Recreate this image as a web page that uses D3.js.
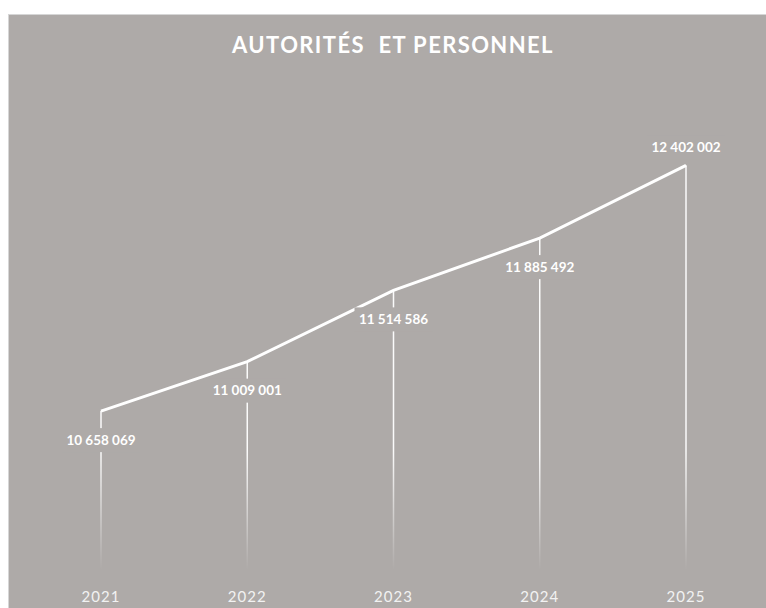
<!DOCTYPE html>
<html>
<head>
<meta charset="utf-8">
<script src="https://cdn.jsdelivr.net/npm/d3@7"></script>
<style>
  body { margin: 0; background: #ffffff; }
  svg { display: block; }
  .title { font-family: Lato, sans-serif; font-weight: 700; font-size: 22px; fill: #ffffff; letter-spacing: 1.4px; }
  .valueText { font-family: Lato, sans-serif; font-weight: 700; font-size: 13.5px; fill: #ffffff; }
  .yearText { font-family: Lato, sans-serif; font-size: 15px; fill: #f2f2f2; letter-spacing: 1px; }
</style>
</head>
<body>
<div id="chart"></div>
<script>
// data
var years = ["2021", "2022", "2023", "2024", "2025"];
var amounts = [10658069, 11009001, 11514586, 11885492, 12402002];
var amountLabels = ["10 658 069", "11 009 001", "11 514 586", "11 885 492", "12 402 002"];

var svgWidth = 766;
var svgHeight = 608;
var bg = "#aeaaa8";

var svg = d3.select("#chart")
    .append("svg")
    .attr("width", svgWidth)
    .attr("height", svgHeight);

// panel
svg.append("rect")
    .attr("x", 8.5)
    .attr("y", 14.5)
    .attr("width", svgWidth)
    .attr("height", svgHeight)
    .attr("fill", bg)
    .attr("stroke", "#d6d6d6")
    .attr("stroke-width", 1);

svg.append("text")
    .attr("class", "title")
    .attr("x", 393)
    .attr("y", 53)
    .attr("text-anchor", "middle")
    .attr("xml:space", "preserve")
    .text("AUTORITÉS  ET PERSONNEL");

var data = years.map(function (y, i) {
    return { year: y, value: amounts[i], label: amountLabels[i] };
});

var xScale = d3.scalePoint()
    .domain(years)
    .range([101, 686]);

var yScale = d3.scaleLinear()
    .domain([9460000, 13000000])
    .range([580, 81]);

// fading gradient for drop lines
var grad = svg.append("defs").append("linearGradient")
    .attr("id", "dropFade")
    .attr("gradientUnits", "userSpaceOnUse")
    .attr("x1", 0).attr("y1", 450)
    .attr("x2", 0).attr("y2", 570);
grad.append("stop").attr("offset", 0).attr("stop-color", "#ffffff").attr("stop-opacity", 0.95);
grad.append("stop").attr("offset", 1).attr("stop-color", "#ffffff").attr("stop-opacity", 0);

svg.selectAll(".drop")
    .data(data)
    .enter()
    .append("line")
    .attr("class", "drop")
    .attr("x1", d => xScale(d.year))
    .attr("x2", d => xScale(d.year))
    .attr("y1", d => yScale(d.value))
    .attr("y2", 570)
    .attr("stroke", "url(#dropFade)")
    .attr("stroke-width", 1.5);

var line = d3.line()
    .x(d => xScale(d.year))
    .y(d => yScale(d.value));

svg.append("path")
    .datum(data)
    .attr("d", line)
    .attr("fill", "none")
    .attr("stroke", "#ffffff")
    .attr("stroke-width", 3);

// value labels (last one sits above the point)
var labels = svg.selectAll(".valueLabel")
    .data(data)
    .enter()
    .append("g")
    .attr("class", "valueLabel")
    .attr("transform", function (d, i) {
        var off = i === data.length - 1 ? -18 : 29;
        return `translate(${xScale(d.year)}, ${yScale(d.value) + off})`;
    });

labels.append("rect")
    .attr("x", -39)
    .attr("y", -12)
    .attr("width", 78)
    .attr("height", 24)
    .attr("fill", bg);

labels.append("text")
    .attr("class", "valueText")
    .attr("text-anchor", "middle")
    .attr("dy", "0.35em")
    .text(d => d.label);

svg.selectAll(".yearText")
    .data(years)
    .enter()
    .append("text")
    .attr("class", "yearText")
    .attr("x", d => xScale(d))
    .attr("y", 602)
    .attr("text-anchor", "middle")
    .text(d => d);
</script>
</body>
</html>
